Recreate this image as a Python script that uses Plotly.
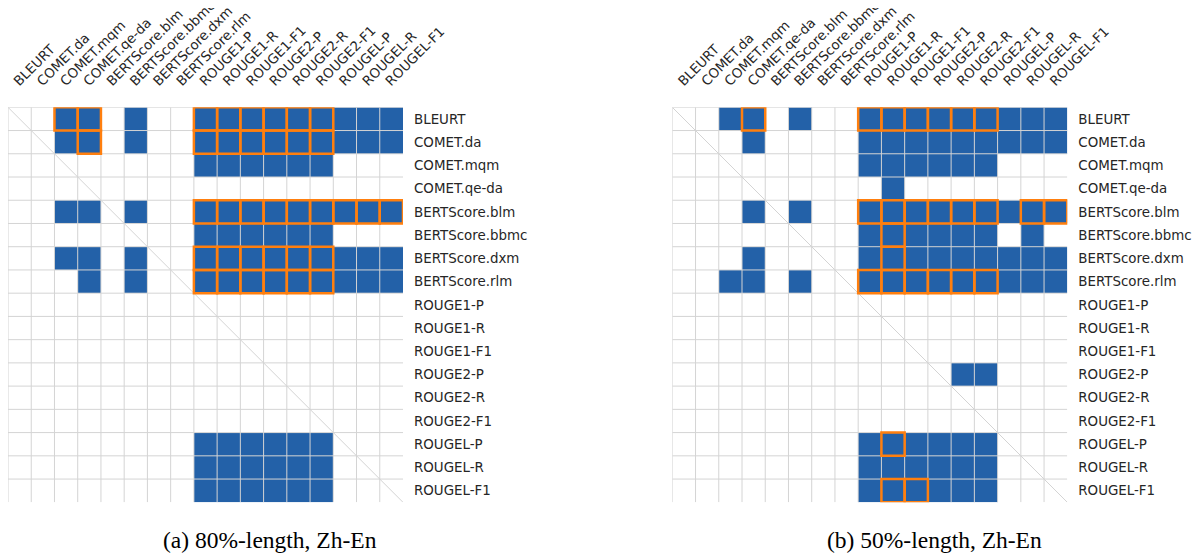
import plotly.graph_objects as go

metrics = ["BLEURT", "COMET.da", "COMET.mqm", "COMET.qe-da", "BERTScore.blm",
           "BERTScore.bbmc", "BERTScore.dxm", "BERTScore.rlm", "ROUGE1-P",
           "ROUGE1-R", "ROUGE1-F1", "ROUGE2-P", "ROUGE2-R", "ROUGE2-F1",
           "ROUGEL-P", "ROUGEL-R", "ROUGEL-F1"]

# significant cells (blue), one string per row, one char per column
sig_80 = [
    "00110100111111111",
    "00110100111111111",
    "00000000111111000",
    "00000000000000000",
    "00110100111111111",
    "00000000111111000",
    "00110100111111111",
    "00010100111111111",
    "00000000000000000",
    "00000000000000000",
    "00000000000000000",
    "00000000000000000",
    "00000000000000000",
    "00000000000000000",
    "00000000111111000",
    "00000000111111000",
    "00000000111111000",
]
# highlighted cells (orange outline)
hl_80 = [
    "00110000111111000",
    "00010000111111000",
    "00000000000000000",
    "00000000000000000",
    "00000000111111111",
    "00000000000000000",
    "00000000111111000",
    "00000000111111000",
    "00000000000000000",
    "00000000000000000",
    "00000000000000000",
    "00000000000000000",
    "00000000000000000",
    "00000000000000000",
    "00000000000000000",
    "00000000000000000",
    "00000000000000000",
]
sig_50 = [
    "00110100111111111",
    "00010000111111111",
    "00000000111111000",
    "00000000010000000",
    "00010100111111111",
    "00000000111111010",
    "00010000111111111",
    "00110100111111111",
    "00000000000000000",
    "00000000000000000",
    "00000000000000000",
    "00000000000011000",
    "00000000000000000",
    "00000000000000000",
    "00000000111111000",
    "00000000111111000",
    "00000000111111000",
]
hl_50 = [
    "00010000111111000",
    "00000000000000000",
    "00000000000000000",
    "00000000000000000",
    "00000000111111011",
    "00000000010000000",
    "00000000010000000",
    "00000000111111000",
    "00000000000000000",
    "00000000000000000",
    "00000000000000000",
    "00000000000000000",
    "00000000000000000",
    "00000000000000000",
    "00000000010000000",
    "00000000000000000",
    "00000000011000000",
]
captions = ["(a) 80%-length, Zh-En", "(b) 50%-length, Zh-En"]

BLUE = "#2361a8"
ORANGE = "#ff7f0e"
GRID = "#d4d4d4"
TXT = "#262626"

# the page body has an 8px margin, so the figure is sized to fit the window
W, H = 1194, 545
n = len(metrics)
idx = list(range(n))

fig = go.Figure()
panels = [(sig_80, hl_80, "x", "y"), (sig_50, hl_50, "x2", "y2")]
shapes = []
for sig, hl, xr, yr in panels:
    z = [[int(c) for c in row] for row in sig]
    fig.add_trace(go.Heatmap(z=z, x=idx, y=idx, xaxis=xr, yaxis=yr,
                             colorscale=[[0, "white"], [1, BLUE]],
                             zmin=0, zmax=1, showscale=False, hoverinfo="skip"))
    for k in range(n):
        shapes.append(dict(type="line", xref=xr, yref=yr, x0=-0.5, x1=n - 0.5,
                           y0=k - 0.5, y1=k - 0.5, line=dict(color=GRID, width=1), layer="above"))
        shapes.append(dict(type="line", xref=xr, yref=yr, y0=-0.5, y1=n - 0.5,
                           x0=k - 0.5, x1=k - 0.5, line=dict(color=GRID, width=1), layer="above"))
    shapes.append(dict(type="line", xref=xr, yref=yr, x0=-0.5, y0=-0.5, x1=n - 0.5, y1=n - 0.5,
                       line=dict(color=GRID, width=1), layer="above"))
    for r, row in enumerate(hl):
        for c, ch in enumerate(row):
            if ch == "1":
                shapes.append(dict(type="rect", xref=xr, yref=yr, x0=c - 0.5, x1=c + 0.5,
                                   y0=r - 0.5, y1=r + 0.5,
                                   line=dict(color=ORANGE, width=2.5), layer="above"))

ydom = [1 - 494.3 / H, 1 - 99.3 / H]
axfont = dict(family="DejaVu Sans", size=13.4, color=TXT)
common_x = dict(range=[-0.5, n - 0.5], side="top", tickmode="array", tickvals=idx,
                ticktext=metrics, tickangle=-45, showgrid=False, zeroline=False,
                showline=False, ticks="", tickfont=axfont, automargin=False,
                ticklabelstandoff=15, ticklabelshift=-5, fixedrange=True)
common_y = dict(range=[n - 0.5, -0.5], side="right", tickmode="array", tickvals=idx,
                ticktext=metrics, showgrid=False, zeroline=False, showline=False,
                ticks="", tickfont=axfont, automargin=False, ticklabelstandoff=10,
                domain=ydom, fixedrange=True)

fig.update_layout(
    width=W, height=H,
    margin=dict(l=0, r=0, t=0, b=0),
    paper_bgcolor="white", plot_bgcolor="white",
    xaxis=dict(common_x, domain=[0, 395 / W], anchor="y"),
    yaxis=dict(common_y, anchor="x"),
    xaxis2=dict(common_x, domain=[664.3 / W, 1059.3 / W], anchor="y2"),
    yaxis2=dict(common_y, anchor="x2"),
    shapes=shapes,
    showlegend=False,
)
for cap, cx in zip(captions, [262 / W, 926.5 / W]):
    fig.add_annotation(text=cap, x=cx, y=1 - 532 / H, xref="paper", yref="paper",
                       showarrow=False, xanchor="center", yanchor="middle",
                       font=dict(family="Liberation Serif", size=23.5, color="black"))

fig.write_html("out.html")
